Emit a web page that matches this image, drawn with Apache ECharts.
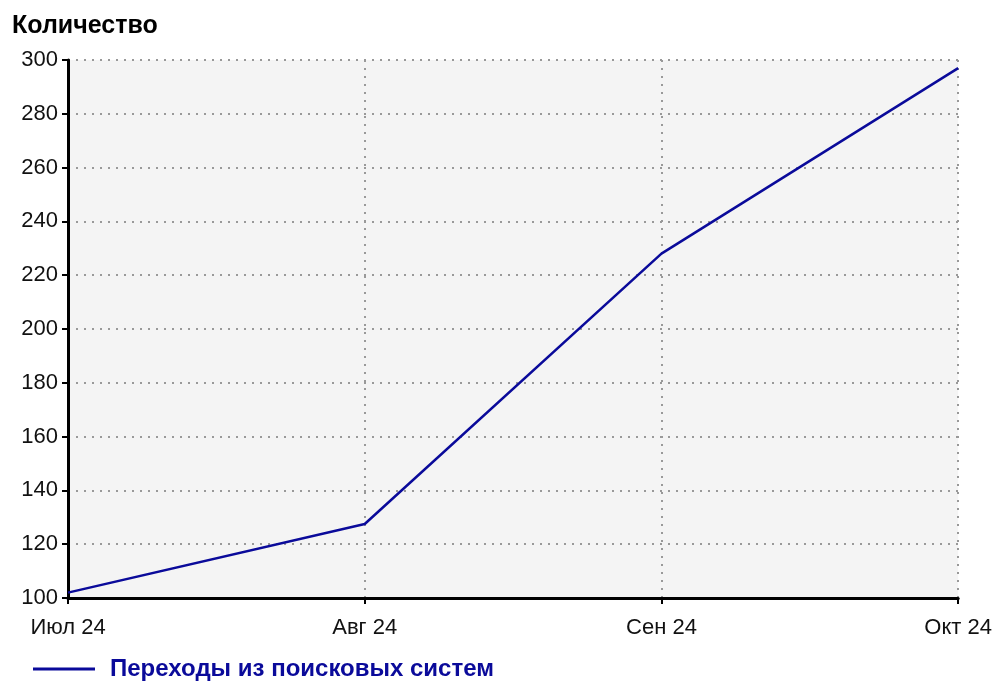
<!DOCTYPE html>
<html>
<head>
<meta charset="utf-8">
<script src="https://cdn.jsdelivr.net/npm/echarts@6/dist/echarts.min.js"></script>
<style>
  html, body { margin: 0; padding: 0; background: #fff; }
  #chart { width: 995px; height: 682px; }
</style>
</head>
<body>
<div id="chart"></div>
<script>
// data
const months = ['Июл 24', 'Авг 24', 'Сен 24', 'Окт 24'];
const searchVisits = [102, 127.5, 228, 297];
const seriesName = 'Переходы из поисковых систем';

const chart = echarts.init(document.getElementById('chart'), null, { renderer: 'canvas' });

const font = 'Liberation Sans';

chart.setOption({
  animation: false,
  backgroundColor: '#fff',
  title: {
    text: 'Количество',
    left: 7,
    top: 9,
    textStyle: { fontFamily: font, fontSize: 25, fontWeight: 'bold', color: '#000' }
  },
  legend: {
    left: 28,
    top: 652,
    icon: 'rect',
    itemWidth: 62,
    itemHeight: 3,
    textStyle: { fontFamily: font, fontSize: 24, fontWeight: 'bold', color: '#0a0a9a', padding: [0, 0, 0, 10] },
    data: [seriesName]
  },
  grid: {
    left: 68,
    right: 35,
    top: 60,
    bottom: 84,
    show: true,
    backgroundColor: '#f4f4f4',
    borderWidth: 0
  },
  xAxis: {
    type: 'category',
    data: months,
    boundaryGap: false,
    axisLine: { lineStyle: { color: '#000', width: 3 } },
    axisTick: { show: true, length: 6, lineStyle: { color: '#000', width: 2 } },
    axisLabel: { fontFamily: font, fontSize: 22, color: '#111', margin: 19 },
    splitLine: { show: true, lineStyle: { type: [2, 6], color: '#999', width: 2 } }
  },
  yAxis: {
    type: 'value',
    min: 100,
    max: 300,
    interval: 20,
    axisLine: { show: true, lineStyle: { color: '#000', width: 3 } },
    axisTick: { show: true, length: 6, lineStyle: { color: '#000', width: 2 } },
    axisLabel: { fontFamily: font, fontSize: 22, color: '#111', margin: 10 },
    splitLine: { show: true, lineStyle: { type: [2, 6], color: '#999', width: 2 } }
  },
  series: [{
    name: seriesName,
    type: 'line',
    data: searchVisits,
    symbol: 'none',
    lineStyle: { color: '#0a0a9a', width: 2.5 },
    itemStyle: { color: '#0a0a9a' }
  }]
});
</script>
</body>
</html>
